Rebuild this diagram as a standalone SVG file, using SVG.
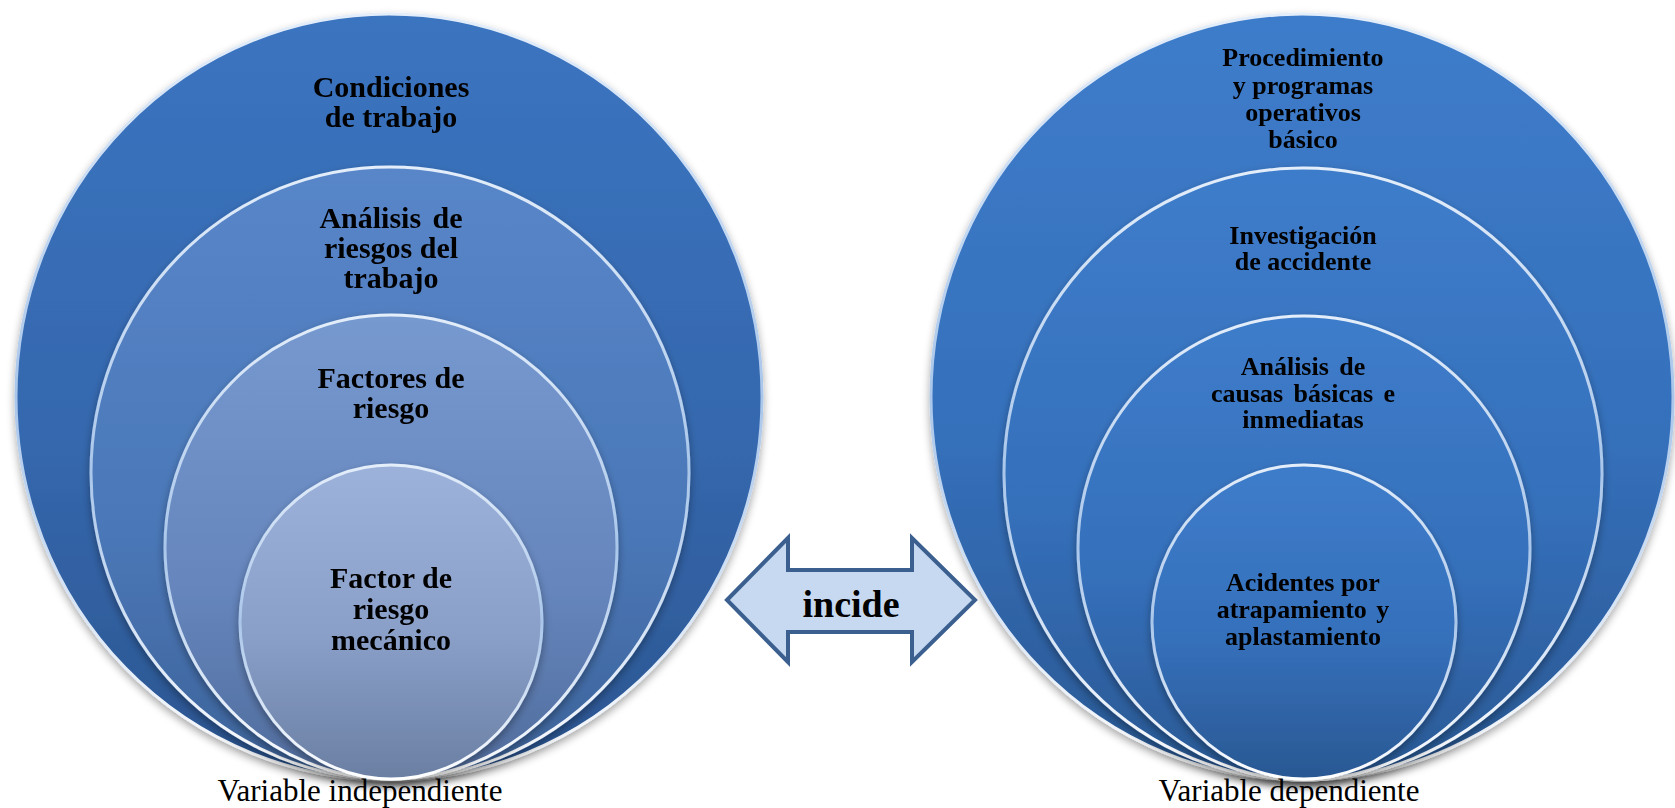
<svg xmlns="http://www.w3.org/2000/svg" width="1675" height="808" viewBox="0 0 1675 808">
  <defs>
    <!-- fills for the nested rings, top to bottom shading -->
    <linearGradient id="gL1" x1="0" y1="0" x2="0" y2="1">
      <stop offset="0" stop-color="#3b74c0"/>
      <stop offset="0.55" stop-color="#3568ae"/>
      <stop offset="1" stop-color="#2b5590"/>
    </linearGradient>
    <linearGradient id="gL2" x1="0" y1="0" x2="0" y2="1">
      <stop offset="0" stop-color="#5886c9"/>
      <stop offset="0.6" stop-color="#4a77b7"/>
      <stop offset="1" stop-color="#3d6399"/>
    </linearGradient>
    <linearGradient id="gL3" x1="0" y1="0" x2="0" y2="1">
      <stop offset="0" stop-color="#7699cf"/>
      <stop offset="0.6" stop-color="#6585bc"/>
      <stop offset="1" stop-color="#506c9c"/>
    </linearGradient>
    <linearGradient id="gL4" x1="0" y1="0" x2="0" y2="1">
      <stop offset="0" stop-color="#9db2da"/>
      <stop offset="0.55" stop-color="#899fc8"/>
      <stop offset="1" stop-color="#6b7fa3"/>
    </linearGradient>
    <linearGradient id="gR" x1="0" y1="0" x2="0" y2="1">
      <stop offset="0" stop-color="#3e7cca"/>
      <stop offset="0.55" stop-color="#3570bb"/>
      <stop offset="1" stop-color="#2a5893"/>
    </linearGradient>
    <!-- light rim around each ring -->
    <linearGradient id="rim" x1="0" y1="0" x2="0" y2="1">
      <stop offset="0" stop-color="#e4eefa"/>
      <stop offset="0.5" stop-color="#a9c6ea"/>
      <stop offset="1" stop-color="#ffffff"/>
    </linearGradient>
    <filter id="shade" x="-10%" y="-10%" width="120%" height="125%">
      <feGaussianBlur in="SourceAlpha" stdDeviation="4"/>
      <feOffset dx="0" dy="4"/>
      <feComponentTransfer><feFuncA type="linear" slope="0.35"/></feComponentTransfer>
      <feMerge><feMergeNode/><feMergeNode in="SourceGraphic"/></feMerge>
    </filter>
  </defs>
  <style>
    .ring { stroke: url(#rim); stroke-width: 3; }
    text { font-family: 'Liberation Serif', 'DejaVu Serif', serif; }
    .lbl { font-weight: bold; fill: #000; text-anchor: middle; }
    .lL { font-size: 30px; }
    .lR { font-size: 26px; }
    .cap { font-size: 31px; fill: #000; text-anchor: middle; }
    .arrow { fill: #c6d9f0; stroke: #3b5f8f; stroke-width: 4; stroke-linejoin: miter; }
  </style>

  <rect width="1675" height="808" fill="#ffffff"/>

  <!-- independent variable rings -->
  <g id="ind-condiciones" filter="url(#shade)">
    <ellipse class="ring" cx="389" cy="397" rx="373" ry="383" fill="url(#gL1)"/>
    <text class="lbl lL" x="391" y="97">Condiciones</text>
    <text class="lbl lL" x="391" y="127">de trabajo</text>
  </g>
  <g id="ind-analisis" filter="url(#shade)">
    <ellipse class="ring" cx="390" cy="473" rx="299" ry="306" fill="url(#gL2)"/>
    <text class="lbl lL" x="391" y="228" word-spacing="4">Análisis de</text>
    <text class="lbl lL" x="391" y="258">riesgos del</text>
    <text class="lbl lL" x="391" y="288">trabajo</text>
  </g>
  <g id="ind-factores" filter="url(#shade)">
    <ellipse class="ring" cx="391" cy="547" rx="226" ry="232" fill="url(#gL3)"/>
    <text class="lbl lL" x="391" y="388">Factores de</text>
    <text class="lbl lL" x="391" y="418">riesgo</text>
  </g>
  <g id="ind-mecanico" filter="url(#shade)">
    <ellipse class="ring" cx="391" cy="622" rx="151" ry="157" fill="url(#gL4)"/>
    <text class="lbl lL" x="391" y="588">Factor de</text>
    <text class="lbl lL" x="391" y="619">riesgo</text>
    <text class="lbl lL" x="391" y="650">mecánico</text>
  </g>

  <!-- dependent variable rings -->
  <g id="dep-procedimiento" filter="url(#shade)">
    <ellipse class="ring" cx="1302" cy="397" rx="371" ry="383" fill="url(#gR)"/>
    <text class="lbl lR" x="1303" y="66">Procedimiento</text>
    <text class="lbl lR" x="1303" y="94">y programas</text>
    <text class="lbl lR" x="1303" y="121">operativos</text>
    <text class="lbl lR" x="1303" y="148">básico</text>
  </g>
  <g id="dep-investigacion" filter="url(#shade)">
    <ellipse class="ring" cx="1303" cy="474" rx="299" ry="306" fill="url(#gR)"/>
    <text class="lbl lR" x="1303" y="244">Investigación</text>
    <text class="lbl lR" x="1303" y="270">de accidente</text>
  </g>
  <g id="dep-causas" filter="url(#shade)">
    <ellipse class="ring" cx="1304" cy="548" rx="226" ry="232" fill="url(#gR)"/>
    <text class="lbl lR" x="1303" y="375" word-spacing="4">Análisis de</text>
    <text class="lbl lR" x="1303" y="402" word-spacing="4">causas básicas e</text>
    <text class="lbl lR" x="1303" y="428">inmediatas</text>
  </g>
  <g id="dep-acidentes" filter="url(#shade)">
    <ellipse class="ring" cx="1304" cy="622" rx="152" ry="157" fill="url(#gR)"/>
    <text class="lbl lR" x="1303" y="591">Acidentes por</text>
    <text class="lbl lR" x="1303" y="618" word-spacing="3">atrapamiento y</text>
    <text class="lbl lR" x="1303" y="645">aplastamiento</text>
  </g>

  <!-- two-way link between both variables -->
  <g id="connectors">
    <polygon class="arrow" points="727,600 788,538 788,570 912,570 912,538 975,600 912,662 912,632 788,632 788,662"/>
    <text class="lbl" x="851" y="617" font-size="38">incide</text>
  </g>

  <!-- captions -->
  <g id="captions">
    <text class="cap" x="360" y="801">Variable independiente</text>
    <text class="cap" x="1289" y="801">Variable dependiente</text>
  </g>
</svg>
